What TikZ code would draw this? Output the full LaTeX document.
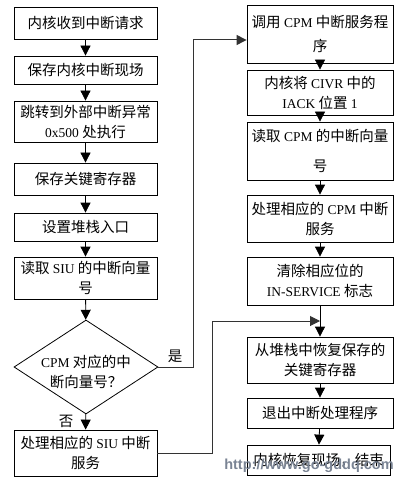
\documentclass[tikz,border=0pt]{standalone}
\usepackage{fontspec}
\setmainfont{Liberation Serif}[Scale=0.93]
\newfontfamily\zhfont{Noto Sans CJK SC}
\newfontfamily\urlfont{Liberation Sans}
\newcommand{\zh}[1]{{\zhfont #1}}
\definecolor{wmark}{HTML}{7A8494}
\usetikzlibrary{arrows.meta,positioning,calc,shapes.geometric}

\begin{document}
\begin{tikzpicture}[
  x=1pt, y=-1pt,
  box/.style={rectangle,draw,align=center,inner sep=1pt,minimum width=143pt},
  wide/.style={minimum width=146pt},
  decision/.style={diamond,draw,inner sep=0pt,aspect=1.53,minimum width=144pt,minimum height=94pt},
  flow/.style={-{Triangle[length=10pt,width=10pt]}},
  link/.style={flow,black!80,line width=1pt},
  line width=0.8pt,
  font=\fontsize{14.5}{20}\selectfont
  ]
  \useasboundingbox (0,0) rectangle (400,481);

  % left column
  \node [box,minimum height=32pt] (RCV) at (85.5,23) {\zh{内核收到中断请求}};
  \node [box,minimum height=28pt] (SAV) at (85.5,70) {\zh{保存内核中断现场}};
  \node [box,minimum height=41pt] (JMP) at (85.5,121.5) {\zh{跳转到外部中断异常}\\0x500 \zh{处执行}};
  \node [box,minimum height=32pt] (KEY) at (85.5,179) {\zh{保存关键寄存器}};
  \node [box,minimum height=28pt] (STK) at (85.5,227) {\zh{设置堆栈入口}};
  \node [box,minimum height=42pt] (SIU) at (85.5,278) {\zh{读取} SIU \zh{的中断向量}\\\zh{号}};
  \node [decision] (CPM) at (86,367) {};
  \node [align=center] (CPMtxt) at (86,372) {CPM \zh{对应的中}\\\zh{断向量号？}};
  \node [box,minimum height=46pt] (SIUsrv) at (85.5,453) {\zh{处理相应的} SIU \zh{中断}\\\zh{服务}};

  % right column
  \node [box,wide,minimum height=58pt] (CALL) at (320,34) {\zh{调用} CPM \zh{中断服务程}\\[4pt]\zh{序}};
  \node [box,wide,minimum height=45pt] (IACK) at (320,92.5) {\zh{内核将} CIVR \zh{中的}\\IACK \zh{位置} 1};
  \node [box,wide,minimum height=58pt] (VEC) at (320,151) {\zh{读取} CPM \zh{的中断向量}\\[10pt]\zh{号}};
  \node [box,wide,minimum height=47pt] (CPMsrv) at (320,218.5) {\zh{处理相应的} CPM \zh{中断}\\\zh{服务}};
  \node [box,wide,minimum height=48pt] (CLR) at (320,281) {\zh{清除相应位的}\\IN-SERVICE \zh{标志}};
  \node [box,wide,minimum height=46pt] (RST) at (320,360) {\zh{从堆栈中恢复保存的}\\\zh{关键寄存器}};
  \node [box,wide,minimum height=30pt] (EXIT) at (320,413) {\zh{退出中断处理程序}};
  \node [box,minimum height=30pt] (END) at (318.5,460) {\zh{内核恢复现场，结束}};
  \coordinate (MRG) at (320,321);

  \node (YES) at (175,356) {\zh{是}};
  \node (NO) at (66,421) {\zh{否}};

  \draw [flow] (RCV) edge (SAV)
               (SAV) edge (JMP)
               (JMP) edge (KEY)
               (KEY) edge (STK)
               (STK) edge (SIU)
               (SIU) edge (CPM)
               (CPM) edge (SIUsrv);
  \draw [flow] (CALL) edge (IACK)
               (IACK) edge (VEC)
               (VEC) edge (CPMsrv)
               (CPMsrv) edge (CLR)
               (CLR) edge (RST)
               (RST) edge (EXIT)
               (EXIT) edge (END);
  \draw [link] (CPM.east) -- ++(35,0) |- ($(CALL.west)+(0,6)$);
  \draw [link] (SIUsrv.east) -- ++(55,0) |- (MRG);

  \node [font=\fontsize{14.5}{15}\urlfont\bfseries,text=wmark] (URL) at (309,466) {http://www.go-gddq.com};
\end{tikzpicture}
\end{document}
